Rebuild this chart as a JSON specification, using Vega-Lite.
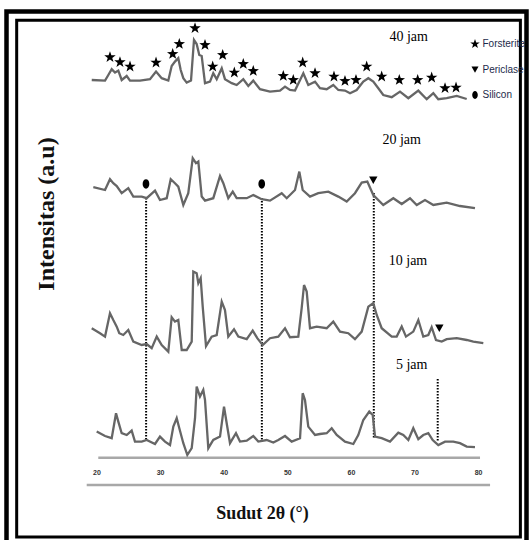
{
  "$schema": "https://vega.github.io/schema/vega-lite/v6.json",
  "autosize": {"type": "none"},
  "padding": {"left": 6.5, "top": 11, "right": 3.5, "bottom": 0},
  "width": 520,
  "height": 534,
  "background": "white",
  "config": {
    "view": {"stroke": null},
    "legend": {
      "orient": "none", "legendX": 463.5, "legendY": 28, "title": null, "padding": 0,
      "symbolSize": 100, "symbolFillColor": "black", "symbolStrokeColor": "black", "symbolStrokeWidth": 0,
      "labelFont": "Liberation Sans", "labelFontSize": 10, "labelColor": "#1c2a4a", "labelOffset": 2.5,
      "rowPadding": 15.5
    }
  },
  "datasets": {
    "xrd": [
      {"sample":"40 jam","two_theta":19.25,"intensity":232.5},{"sample":"40 jam","two_theta":21.34,"intensity":232.2},{"sample":"40 jam","two_theta":21.86,"intensity":235},{"sample":"40 jam","two_theta":22.39,"intensity":237.9},{"sample":"40 jam","two_theta":22.91,"intensity":236.2},{"sample":"40 jam","two_theta":23.43,"intensity":237.2},{"sample":"40 jam","two_theta":23.96,"intensity":232.5},{"sample":"40 jam","two_theta":24.75,"intensity":234.5},{"sample":"40 jam","two_theta":25.27,"intensity":232.2},{"sample":"40 jam","two_theta":26.84,"intensity":232.2},{"sample":"40 jam","two_theta":28.41,"intensity":232.9},{"sample":"40 jam","two_theta":29.36,"intensity":236.7},{"sample":"40 jam","two_theta":30.25,"intensity":233.4},{"sample":"40 jam","two_theta":31.29,"intensity":232.2},{"sample":"40 jam","two_theta":31.82,"intensity":239.5},{"sample":"40 jam","two_theta":32.34,"intensity":241.7},{"sample":"40 jam","two_theta":32.86,"intensity":243.4},{"sample":"40 jam","two_theta":33.24,"intensity":237.5},{"sample":"40 jam","two_theta":33.65,"intensity":233.4},{"sample":"40 jam","two_theta":34.18,"intensity":231.2},{"sample":"40 jam","two_theta":34.86,"intensity":232.2},{"sample":"40 jam","two_theta":35.33,"intensity":252.5},{"sample":"40 jam","two_theta":35.75,"intensity":250.5},{"sample":"40 jam","two_theta":36.16,"intensity":245},{"sample":"40 jam","two_theta":36.54,"intensity":244.5},{"sample":"40 jam","two_theta":37.06,"intensity":230.9},{"sample":"40 jam","two_theta":37.85,"intensity":231.7},{"sample":"40 jam","two_theta":38.36,"intensity":235.9},{"sample":"40 jam","two_theta":38.9,"intensity":232.9},{"sample":"40 jam","two_theta":39.69,"intensity":238.4},{"sample":"40 jam","two_theta":40.2,"intensity":232.9},{"sample":"40 jam","two_theta":41.26,"intensity":230.9},{"sample":"40 jam","two_theta":42.04,"intensity":230},{"sample":"40 jam","two_theta":43.08,"intensity":232.9},{"sample":"40 jam","two_theta":43.87,"intensity":229.5},{"sample":"40 jam","two_theta":44.65,"intensity":232.2},{"sample":"40 jam","two_theta":45.71,"intensity":227.9},{"sample":"40 jam","two_theta":47.28,"intensity":226.7},{"sample":"40 jam","two_theta":48.85,"intensity":227.2},{"sample":"40 jam","two_theta":49.64,"intensity":229.2},{"sample":"40 jam","two_theta":50.42,"intensity":227.5},{"sample":"40 jam","two_theta":51.21,"intensity":227.2},{"sample":"40 jam","two_theta":52.52,"intensity":235.9},{"sample":"40 jam","two_theta":53.3,"intensity":230},{"sample":"40 jam","two_theta":54.36,"intensity":231.7},{"sample":"40 jam","two_theta":55.14,"intensity":228.4},{"sample":"40 jam","two_theta":56.19,"intensity":227.9},{"sample":"40 jam","two_theta":57.23,"intensity":230},{"sample":"40 jam","two_theta":58.02,"intensity":227.5},{"sample":"40 jam","two_theta":59.07,"intensity":227.2},{"sample":"40 jam","two_theta":59.86,"intensity":225.9},{"sample":"40 jam","two_theta":60.91,"intensity":227.5},{"sample":"40 jam","two_theta":61.95,"intensity":231.7},{"sample":"40 jam","two_theta":62.74,"intensity":233.4},{"sample":"40 jam","two_theta":63.52,"intensity":231.7},{"sample":"40 jam","two_theta":64.31,"intensity":228.4},{"sample":"40 jam","two_theta":65.09,"intensity":225},{"sample":"40 jam","two_theta":66.42,"intensity":223.9},{"sample":"40 jam","two_theta":67.72,"intensity":226.7},{"sample":"40 jam","two_theta":69.03,"intensity":223.4},{"sample":"40 jam","two_theta":70.6,"intensity":227.2},{"sample":"40 jam","two_theta":71.92,"intensity":222.9},{"sample":"40 jam","two_theta":72.96,"intensity":225.9},{"sample":"40 jam","two_theta":73.74,"intensity":222.9},{"sample":"40 jam","two_theta":75.06,"intensity":223.4},{"sample":"40 jam","two_theta":76.64,"intensity":224.5},{"sample":"40 jam","two_theta":78.21,"intensity":223},

      {"sample":"20 jam","two_theta":19.5,"intensity":178.9},{"sample":"20 jam","two_theta":21.34,"intensity":177.5},{"sample":"20 jam","two_theta":22.12,"intensity":182.9},{"sample":"20 jam","two_theta":22.64,"intensity":180.9},{"sample":"20 jam","two_theta":23.18,"intensity":179.5},{"sample":"20 jam","two_theta":23.96,"intensity":175.9},{"sample":"20 jam","two_theta":25.0,"intensity":178.4},{"sample":"20 jam","two_theta":25.79,"intensity":174.2},{"sample":"20 jam","two_theta":27.11,"intensity":174.2},{"sample":"20 jam","two_theta":27.89,"intensity":173.4},{"sample":"20 jam","two_theta":29.2,"intensity":177.2},{"sample":"20 jam","two_theta":29.98,"intensity":172.5},{"sample":"20 jam","two_theta":31.04,"intensity":173.4},{"sample":"20 jam","two_theta":31.67,"intensity":182.9},{"sample":"20 jam","two_theta":32.34,"intensity":180.9},{"sample":"20 jam","two_theta":32.86,"intensity":179.2},{"sample":"20 jam","two_theta":33.65,"intensity":170},{"sample":"20 jam","two_theta":34.43,"intensity":175.9},{"sample":"20 jam","two_theta":35.13,"intensity":193.4},{"sample":"20 jam","two_theta":35.64,"intensity":190.9},{"sample":"20 jam","two_theta":36.01,"intensity":191.7},{"sample":"20 jam","two_theta":36.54,"intensity":174.2},{"sample":"20 jam","two_theta":37.06,"intensity":172.2},{"sample":"20 jam","two_theta":38.36,"intensity":173.4},{"sample":"20 jam","two_theta":39.42,"intensity":184.5},{"sample":"20 jam","two_theta":39.94,"intensity":180.9},{"sample":"20 jam","two_theta":40.72,"intensity":173.4},{"sample":"20 jam","two_theta":41.42,"intensity":176.7},{"sample":"20 jam","two_theta":42.04,"intensity":173.4},{"sample":"20 jam","two_theta":43.62,"intensity":173.4},{"sample":"20 jam","two_theta":44.65,"intensity":175},{"sample":"20 jam","two_theta":45.97,"intensity":172.9},{"sample":"20 jam","two_theta":47.28,"intensity":172.2},{"sample":"20 jam","two_theta":49.12,"intensity":175.9},{"sample":"20 jam","two_theta":49.91,"intensity":173.4},{"sample":"20 jam","two_theta":51.21,"intensity":177.5},{"sample":"20 jam","two_theta":51.89,"intensity":186.7},{"sample":"20 jam","two_theta":52.42,"intensity":177.5},{"sample":"20 jam","two_theta":53.57,"intensity":174.2},{"sample":"20 jam","two_theta":54.87,"intensity":175.9},{"sample":"20 jam","two_theta":56.45,"intensity":176.7},{"sample":"20 jam","two_theta":58.02,"intensity":174.2},{"sample":"20 jam","two_theta":59.34,"intensity":171.7},{"sample":"20 jam","two_theta":60.64,"intensity":175.9},{"sample":"20 jam","two_theta":61.7,"intensity":181.2},{"sample":"20 jam","two_theta":62.58,"intensity":181.7},{"sample":"20 jam","two_theta":63.52,"intensity":175},{"sample":"20 jam","two_theta":65.09,"intensity":170},{"sample":"20 jam","two_theta":66.67,"intensity":173.4},{"sample":"20 jam","two_theta":67.99,"intensity":170.5},{"sample":"20 jam","two_theta":69.29,"intensity":173.4},{"sample":"20 jam","two_theta":70.35,"intensity":170},{"sample":"20 jam","two_theta":71.65,"intensity":172.5},{"sample":"20 jam","two_theta":72.96,"intensity":170},{"sample":"20 jam","two_theta":75.06,"intensity":171.2},{"sample":"20 jam","two_theta":77.15,"intensity":169.5},{"sample":"20 jam","two_theta":79.51,"intensity":168.4},

      {"sample":"10 jam","two_theta":19.25,"intensity":108.4},{"sample":"10 jam","two_theta":20.55,"intensity":105.9},{"sample":"10 jam","two_theta":21.34,"intensity":104.2},{"sample":"10 jam","two_theta":22.12,"intensity":115.9},{"sample":"10 jam","two_theta":22.64,"intensity":112.5},{"sample":"10 jam","two_theta":23.18,"intensity":109.2},{"sample":"10 jam","two_theta":23.58,"intensity":105.9},{"sample":"10 jam","two_theta":24.21,"intensity":105},{"sample":"10 jam","two_theta":25.0,"intensity":107.5},{"sample":"10 jam","two_theta":25.79,"intensity":101.7},{"sample":"10 jam","two_theta":27.11,"intensity":100},{"sample":"10 jam","two_theta":27.89,"intensity":100.5},{"sample":"10 jam","two_theta":28.68,"intensity":98.4},{"sample":"10 jam","two_theta":29.47,"intensity":104.2},{"sample":"10 jam","two_theta":30.25,"intensity":100},{"sample":"10 jam","two_theta":31.29,"intensity":96.7},{"sample":"10 jam","two_theta":31.82,"intensity":113.9},{"sample":"10 jam","two_theta":32.34,"intensity":111.7},{"sample":"10 jam","two_theta":32.86,"intensity":112.5},{"sample":"10 jam","two_theta":33.4,"intensity":97.5},{"sample":"10 jam","two_theta":34.18,"intensity":97.5},{"sample":"10 jam","two_theta":34.97,"intensity":101.7},{"sample":"10 jam","two_theta":35.22,"intensity":136.7},{"sample":"10 jam","two_theta":35.75,"intensity":135.9},{"sample":"10 jam","two_theta":36.01,"intensity":130.9},{"sample":"10 jam","two_theta":36.38,"intensity":133.4},{"sample":"10 jam","two_theta":36.7,"intensity":119.2},{"sample":"10 jam","two_theta":37.22,"intensity":99.5},{"sample":"10 jam","two_theta":38.11,"intensity":104.2},{"sample":"10 jam","two_theta":38.9,"intensity":105},{"sample":"10 jam","two_theta":39.69,"intensity":121.7},{"sample":"10 jam","two_theta":40.2,"intensity":117.5},{"sample":"10 jam","two_theta":40.72,"intensity":104.2},{"sample":"10 jam","two_theta":41.62,"intensity":107.9},{"sample":"10 jam","two_theta":42.3,"intensity":104.2},{"sample":"10 jam","two_theta":43.62,"intensity":102.9},{"sample":"10 jam","two_theta":44.56,"intensity":107.2},{"sample":"10 jam","two_theta":45.28,"intensity":103.4},{"sample":"10 jam","two_theta":46.13,"intensity":100},{"sample":"10 jam","two_theta":47.28,"intensity":103.4},{"sample":"10 jam","two_theta":48.58,"intensity":104.2},{"sample":"10 jam","two_theta":49.64,"intensity":108.4},{"sample":"10 jam","two_theta":50.42,"intensity":103.9},{"sample":"10 jam","two_theta":51.73,"intensity":104.2},{"sample":"10 jam","two_theta":52.26,"intensity":118.4},{"sample":"10 jam","two_theta":52.63,"intensity":130},{"sample":"10 jam","two_theta":53.05,"intensity":126.7},{"sample":"10 jam","two_theta":53.57,"intensity":108.4},{"sample":"10 jam","two_theta":54.62,"intensity":109.2},{"sample":"10 jam","two_theta":56.19,"intensity":108.4},{"sample":"10 jam","two_theta":57.23,"intensity":111.7},{"sample":"10 jam","two_theta":58.29,"intensity":106.7},{"sample":"10 jam","two_theta":59.59,"intensity":105.9},{"sample":"10 jam","two_theta":60.64,"intensity":102.9},{"sample":"10 jam","two_theta":61.7,"intensity":106.7},{"sample":"10 jam","two_theta":62.74,"intensity":119.2},{"sample":"10 jam","two_theta":63.52,"intensity":120.9},{"sample":"10 jam","two_theta":64.06,"intensity":115},{"sample":"10 jam","two_theta":64.84,"intensity":108.4},{"sample":"10 jam","two_theta":66.42,"intensity":104.2},{"sample":"10 jam","two_theta":67.2,"intensity":104.2},{"sample":"10 jam","two_theta":67.99,"intensity":109.2},{"sample":"10 jam","two_theta":68.66,"intensity":104.2},{"sample":"10 jam","two_theta":69.81,"intensity":106.7},{"sample":"10 jam","two_theta":70.6,"intensity":112.5},{"sample":"10 jam","two_theta":71.38,"intensity":104.2},{"sample":"10 jam","two_theta":72.17,"intensity":105},{"sample":"10 jam","two_theta":72.7,"intensity":108.9},{"sample":"10 jam","two_theta":73.38,"intensity":102.5},{"sample":"10 jam","two_theta":74.28,"intensity":101.7},{"sample":"10 jam","two_theta":75.06,"intensity":102.9},{"sample":"10 jam","two_theta":76.64,"intensity":103.4},{"sample":"10 jam","two_theta":78.21,"intensity":102.5},{"sample":"10 jam","two_theta":79.25,"intensity":101.7},{"sample":"10 jam","two_theta":80.82,"intensity":100.9},

      {"sample":"5 jam","two_theta":20.03,"intensity":56.7},{"sample":"5 jam","two_theta":21.34,"intensity":54.5},{"sample":"5 jam","two_theta":22.39,"intensity":53.4},{"sample":"5 jam","two_theta":23.07,"intensity":65.9},{"sample":"5 jam","two_theta":23.43,"intensity":61.7},{"sample":"5 jam","two_theta":23.96,"intensity":55.9},{"sample":"5 jam","two_theta":24.75,"intensity":55},{"sample":"5 jam","two_theta":25.53,"intensity":57.2},{"sample":"5 jam","two_theta":26.05,"intensity":51.7},{"sample":"5 jam","two_theta":27.11,"intensity":51.7},{"sample":"5 jam","two_theta":27.89,"intensity":52.5},{"sample":"5 jam","two_theta":29.2,"intensity":50.5},{"sample":"5 jam","two_theta":29.98,"intensity":54.2},{"sample":"5 jam","two_theta":30.77,"intensity":51.7},{"sample":"5 jam","two_theta":31.56,"intensity":50},{"sample":"5 jam","two_theta":32.08,"intensity":59.2},{"sample":"5 jam","two_theta":32.61,"intensity":63.4},{"sample":"5 jam","two_theta":33.02,"intensity":58.4},{"sample":"5 jam","two_theta":33.65,"intensity":50.9},{"sample":"5 jam","two_theta":34.28,"intensity":45},{"sample":"5 jam","two_theta":34.97,"intensity":48.4},{"sample":"5 jam","two_theta":35.49,"intensity":63.4},{"sample":"5 jam","two_theta":35.75,"intensity":79.2},{"sample":"5 jam","two_theta":36.27,"intensity":74.2},{"sample":"5 jam","two_theta":36.79,"intensity":77.5},{"sample":"5 jam","two_theta":37.06,"intensity":72.5},{"sample":"5 jam","two_theta":37.58,"intensity":48.4},{"sample":"5 jam","two_theta":38.36,"intensity":52.5},{"sample":"5 jam","two_theta":39.42,"intensity":54.2},{"sample":"5 jam","two_theta":40.05,"intensity":69.2},{"sample":"5 jam","two_theta":40.47,"intensity":60.9},{"sample":"5 jam","two_theta":40.99,"intensity":50.9},{"sample":"5 jam","two_theta":41.93,"intensity":55.9},{"sample":"5 jam","two_theta":42.56,"intensity":51.7},{"sample":"5 jam","two_theta":43.62,"intensity":52.2},{"sample":"5 jam","two_theta":44.65,"intensity":54.5},{"sample":"5 jam","two_theta":45.44,"intensity":51.7},{"sample":"5 jam","two_theta":46.76,"intensity":52.5},{"sample":"5 jam","two_theta":47.8,"intensity":51.2},{"sample":"5 jam","two_theta":48.58,"intensity":52.5},{"sample":"5 jam","two_theta":49.64,"intensity":54.5},{"sample":"5 jam","two_theta":50.69,"intensity":51.7},{"sample":"5 jam","two_theta":52.0,"intensity":53.4},{"sample":"5 jam","two_theta":52.42,"intensity":75.9},{"sample":"5 jam","two_theta":52.78,"intensity":72.5},{"sample":"5 jam","two_theta":53.3,"intensity":59.2},{"sample":"5 jam","two_theta":54.36,"intensity":55},{"sample":"5 jam","two_theta":55.14,"intensity":55.5},{"sample":"5 jam","two_theta":56.19,"intensity":55.9},{"sample":"5 jam","two_theta":56.98,"intensity":58.4},{"sample":"5 jam","two_theta":57.77,"intensity":55},{"sample":"5 jam","two_theta":59.07,"intensity":51.7},{"sample":"5 jam","two_theta":60.38,"intensity":50.5},{"sample":"5 jam","two_theta":61.16,"intensity":55},{"sample":"5 jam","two_theta":61.95,"intensity":62.5},{"sample":"5 jam","two_theta":62.89,"intensity":66.7},{"sample":"5 jam","two_theta":63.43,"intensity":65},{"sample":"5 jam","two_theta":63.79,"intensity":54.2},{"sample":"5 jam","two_theta":64.84,"intensity":53.4},{"sample":"5 jam","two_theta":66.15,"intensity":51.7},{"sample":"5 jam","two_theta":67.45,"intensity":56.2},{"sample":"5 jam","two_theta":68.24,"intensity":55},{"sample":"5 jam","two_theta":69.03,"intensity":52.5},{"sample":"5 jam","two_theta":69.81,"intensity":58.4},{"sample":"5 jam","two_theta":70.6,"intensity":52.9},{"sample":"5 jam","two_theta":71.38,"intensity":55},{"sample":"5 jam","two_theta":72.17,"intensity":55.9},{"sample":"5 jam","two_theta":72.86,"intensity":52.5},{"sample":"5 jam","two_theta":73.74,"intensity":50},{"sample":"5 jam","two_theta":74.8,"intensity":51.7},{"sample":"5 jam","two_theta":76.1,"intensity":51.7},{"sample":"5 jam","two_theta":77.15,"intensity":50.9},{"sample":"5 jam","two_theta":78.21,"intensity":49.2},{"sample":"5 jam","two_theta":79.51,"intensity":48.9}
    ],
    "markers": [
      {"phase":"Forsterite","two_theta":22.12,"intensity":243.9},{"phase":"Forsterite","two_theta":23.69,"intensity":241.4},{"phase":"Forsterite","two_theta":25.27,"intensity":239.2},{"phase":"Forsterite","two_theta":29.36,"intensity":241.2},{"phase":"Forsterite","two_theta":31.98,"intensity":245.5},{"phase":"Forsterite","two_theta":33.02,"intensity":250.5},{"phase":"Forsterite","two_theta":35.49,"intensity":258.4},{"phase":"Forsterite","two_theta":37.06,"intensity":250},{"phase":"Forsterite","two_theta":38.27,"intensity":239.2},{"phase":"Forsterite","two_theta":39.84,"intensity":245},{"phase":"Forsterite","two_theta":41.67,"intensity":236.2},{"phase":"Forsterite","two_theta":43.08,"intensity":240.5},{"phase":"Forsterite","two_theta":44.65,"intensity":237},{"phase":"Forsterite","two_theta":49.37,"intensity":234.5},{"phase":"Forsterite","two_theta":50.94,"intensity":232.5},{"phase":"Forsterite","two_theta":52.42,"intensity":241.2},{"phase":"Forsterite","two_theta":54.36,"intensity":235.9},{"phase":"Forsterite","two_theta":57.34,"intensity":234.2},{"phase":"Forsterite","two_theta":59.07,"intensity":232},{"phase":"Forsterite","two_theta":60.8,"intensity":232.5},{"phase":"Forsterite","two_theta":62.48,"intensity":239.2},{"phase":"Forsterite","two_theta":64.84,"intensity":234.2},{"phase":"Forsterite","two_theta":67.61,"intensity":232.5},{"phase":"Forsterite","two_theta":70.5,"intensity":232.5},{"phase":"Forsterite","two_theta":72.7,"intensity":233.7},{"phase":"Forsterite","two_theta":74.8,"intensity":228.4},{"phase":"Forsterite","two_theta":76.53,"intensity":228.7},
      {"phase":"Silicon","two_theta":27.78,"intensity":180.5},{"phase":"Silicon","two_theta":45.98,"intensity":180.5},
      {"phase":"Periclase","two_theta":63.52,"intensity":182.5},{"phase":"Periclase","two_theta":73.9,"intensity":108.4}
    ],
    "guides": [
      {"two_theta":27.8,"top":173.5,"bottom":52.5},
      {"two_theta":46.0,"top":173.5,"bottom":52.5},
      {"two_theta":63.6,"top":176,"bottom":53.5},
      {"two_theta":73.65,"top":83,"bottom":51.7}
    ],
    "labels": [
      {"label":"40 jam","two_theta":69.09,"intensity":253.8},
      {"label":"20 jam","two_theta":67.99,"intensity":202.5},
      {"label":"10 jam","two_theta":68.98,"intensity":142.2},
      {"label":"5 jam","two_theta":69.56,"intensity":90}
    ],
    "frame": [
      {"left":7.45,"right":86.65,"top":262.35,"bottom":4}
    ],
    "outer_frame": [
      {"left":5.849,"right":87.61,"top":266.75,"bottom":-4}
    ],
    "baselines": [
      {"start":20.28,"end":80.3,"level":43.6},
      {"start":18.46,"end":81.88,"level":30}
    ]
  },
  "encoding": {
    "x": {
      "type": "quantitative",
      "scale": {"domain": [5.849, 87.61], "nice": false, "zero": false},
      "axis": {
        "orient": "bottom", "offset": -73, "domain": false, "ticks": false, "grid": false,
        "values": [20, 30, 40, 50, 60, 70, 80],
        "labelFont": "Liberation Sans", "labelFontSize": 7, "labelFontWeight": "bold", "labelColor": "#333",
        "labelBaseline": "middle", "labelPadding": 0,
        "title": "Sudut 2θ (°)", "titleFont": "Liberation Serif", "titleFontSize": 18, "titleFontWeight": "bold",
        "titleColor": "#111", "titleX": 255.5, "titleY": 41, "titleAlign": "center", "titleBaseline": "middle"
      }
    },
    "y": {
      "type": "quantitative",
      "scale": {"domain": [0, 267], "nice": false, "zero": false},
      "axis": {
        "orient": "left", "domain": false, "ticks": false, "labels": false, "grid": false,
        "title": "Intensitas (a.u)", "titleFont": "Liberation Serif", "titleFontSize": 24, "titleFontWeight": "bold",
        "titleColor": "#111", "titleX": 40, "titleY": 202.5, "titleAngle": 270, "titleAlign": "center", "titleBaseline": "middle"
      }
    }
  },
  "layer": [
    {
      "data": {"name": "outer_frame"},
      "mark": {"type": "rect", "filled": false, "stroke": "black", "strokeWidth": 4.5, "clip": false},
      "encoding": {"x": {"field": "left"}, "x2": {"field": "right"}, "y": {"field": "top"}, "y2": {"field": "bottom"}}
    },
    {
      "data": {"name": "frame"},
      "mark": {"type": "rect", "filled": false, "stroke": "black", "strokeWidth": 3},
      "encoding": {"x": {"field": "left"}, "x2": {"field": "right"}, "y": {"field": "top"}, "y2": {"field": "bottom"}}
    },
    {
      "data": {"name": "baselines"},
      "mark": {"type": "rule", "stroke": "#a8a8a8", "strokeWidth": 2.5},
      "encoding": {"x": {"field": "start"}, "x2": {"field": "end"}, "y": {"field": "level"}}
    },
    {
      "data": {"name": "guides"},
      "mark": {"type": "rule", "stroke": "black", "strokeWidth": 2, "strokeDash": [1.5, 1.5]},
      "encoding": {"x": {"field": "two_theta"}, "y": {"field": "top"}, "y2": {"field": "bottom"}}
    },
    {
      "data": {"name": "xrd"},
      "mark": {"type": "line", "stroke": "#666666", "strokeWidth": 2.3, "strokeJoin": "miter"},
      "encoding": {"x": {"field": "two_theta"}, "y": {"field": "intensity"}, "detail": {"field": "sample"}}
    },
    {
      "data": {"name": "markers"},
      "mark": {"type": "point", "filled": true, "color": "black", "size": 144, "opacity": 1},
      "encoding": {
        "x": {"field": "two_theta"}, "y": {"field": "intensity"},
        "shape": {
          "field": "phase", "type": "nominal",
          "scale": {
            "domain": ["Forsterite", "Periclase", "Silicon"],
            "range": [
              "M0,-1L0.235,-0.324L0.951,-0.309L0.38,0.124L0.588,0.809L0,0.4L-0.588,0.809L-0.38,0.124L-0.951,-0.309L-0.235,-0.324Z",
              "M-0.7,-0.6L0.7,-0.6L0,0.65Z",
              "M0,-0.78A0.56,0.78 0 1,1 0,0.78A0.56,0.78 0 1,1 0,-0.78Z"
            ]
          }
        }
      }
    },
    {
      "data": {"name": "labels"},
      "mark": {"type": "text", "font": "Liberation Serif", "fontSize": 14, "color": "black", "align": "center", "baseline": "middle"},
      "encoding": {"x": {"field": "two_theta"}, "y": {"field": "intensity"}, "text": {"field": "label"}}
    }
  ]
}
